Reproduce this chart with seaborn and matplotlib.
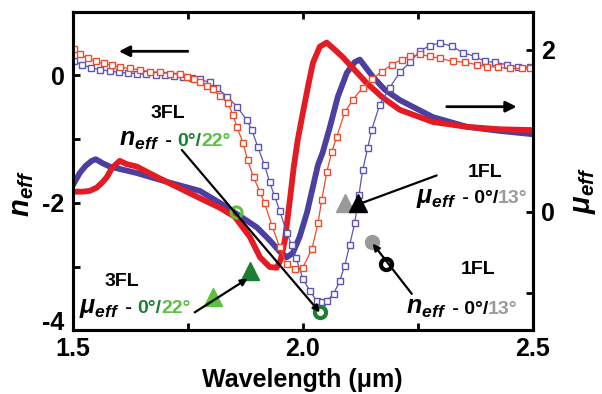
import numpy as np
import pandas as pd
import matplotlib
matplotlib.use("Agg")
import matplotlib.pyplot as plt
import seaborn as sns
from matplotlib.offsetbox import TextArea, HPacker, AnnotationBbox

# n_eff (open squares, left axis)
lam_sq_blue = [1.502, 1.52, 1.54, 1.56, 1.58, 1.60, 1.62, 1.64, 1.66, 1.68, 1.70, 1.72, 1.74,
               1.76, 1.776, 1.798, 1.813, 1.835, 1.857, 1.878, 1.889, 1.902, 1.917, 1.928,
               1.939, 1.950, 1.965, 1.976, 1.985, 2.000, 2.015, 2.030, 2.041, 2.052, 2.067,
               2.080, 2.091, 2.102, 2.113, 2.122, 2.130, 2.141, 2.150, 2.167, 2.189, 2.211,
               2.233, 2.254, 2.276, 2.298, 2.324, 2.348, 2.374, 2.396, 2.417, 2.443, 2.467, 2.493]
n_sq_blue = [0.22, 0.17, 0.12, 0.09, 0.07, 0.05, 0.04, 0.03, 0.02, 0.01, 0.0, -0.01, -0.02,
             -0.04, -0.06, -0.11, -0.19, -0.33, -0.49, -0.70, -0.85, -1.12, -1.41, -1.68,
             -1.90, -2.13, -2.47, -2.67, -2.86, -3.19, -3.38, -3.54, -3.56, -3.54, -3.43,
             -3.23, -2.99, -2.66, -2.31, -1.88, -1.49, -1.14, -0.85, -0.46, -0.19, 0.05,
             0.21, 0.38, 0.47, 0.51, 0.46, 0.36, 0.30, 0.22, 0.21, 0.17, 0.14, 0.14]

lam_sq_red = [1.502, 1.515, 1.533, 1.550, 1.567, 1.585, 1.602, 1.624, 1.646, 1.667, 1.689,
              1.711, 1.733, 1.748, 1.763, 1.776, 1.791, 1.804, 1.820, 1.837, 1.848, 1.857,
              1.870, 1.880, 1.893, 1.907, 1.917, 1.933, 1.950, 1.965, 1.983, 2.000, 2.020,
              2.033, 2.041, 2.052, 2.063, 2.074, 2.091, 2.109, 2.130, 2.150, 2.172, 2.193,
              2.215, 2.233, 2.254, 2.276, 2.298, 2.326, 2.352, 2.378, 2.400, 2.424, 2.450,
              2.476, 2.493]
n_sq_red = [0.41, 0.33, 0.27, 0.22, 0.19, 0.16, 0.13, 0.11, 0.09, 0.06, 0.05,
            0.03, 0.02, -0.02, -0.06, -0.11, -0.16, -0.22, -0.32, -0.43, -0.62, -0.81,
            -1.06, -1.33, -1.60, -1.83, -2.01, -2.36, -2.70, -2.96, -3.04, -3.02, -2.72,
            -2.32, -1.96, -1.52, -1.20, -0.96, -0.58, -0.38, -0.19, -0.06, 0.06, 0.17,
            0.25, 0.30, 0.33, 0.30, 0.27, 0.22, 0.21, 0.17, 0.14, 0.13, 0.11,
            0.11, 0.11]

# mu_eff (thick lines, right axis)
lam_mu_red = [1.500, 1.522, 1.537, 1.552, 1.565, 1.574, 1.585, 1.596, 1.602, 1.617, 1.639,
              1.683, 1.726, 1.776, 1.820, 1.852, 1.885, 1.907, 1.928, 1.943, 1.952, 1.961,
              1.972, 1.980, 1.989, 2.000, 2.011, 2.022, 2.037, 2.052, 2.070, 2.087, 2.113,
              2.139, 2.174, 2.211, 2.283, 2.357, 2.428, 2.498]
mu_red = [0.25, 0.25, 0.26, 0.30, 0.37, 0.43, 0.54, 0.60, 0.63, 0.59, 0.56,
          0.43, 0.31, 0.17, 0.05, -0.06, -0.31, -0.56, -0.68, -0.69, -0.59, -0.35,
          0.15, 0.54, 0.89, 1.22, 1.54, 1.84, 2.04, 2.09, 2.00, 1.91, 1.75,
          1.59, 1.41, 1.26, 1.11, 1.05, 1.02, 1.01]

lam_mu_blue = [1.500, 1.515, 1.528, 1.541, 1.550, 1.565, 1.580, 1.639, 1.711, 1.776, 1.820,
               1.863, 1.900, 1.928, 1.950, 1.965, 1.978, 1.993, 2.009, 2.022, 2.033, 2.043,
               2.059, 2.076, 2.096, 2.113, 2.124, 2.152, 2.178, 2.211, 2.283, 2.357, 2.428, 2.498]
mu_blue = [0.33, 0.48, 0.57, 0.63, 0.65, 0.60, 0.56, 0.48, 0.36, 0.26, 0.11,
           -0.05, -0.19, -0.35, -0.49, -0.56, -0.51, -0.31, -0.01, 0.31, 0.58, 0.73,
           1.05, 1.42, 1.72, 1.85, 1.88, 1.67, 1.51, 1.38, 1.17, 1.05, 1.00, 0.96]

# annotation markers (left-axis units)
ring_lam = [1.854, 2.037]
ring_n = [-2.15, -3.72]
tri3_lam = [1.804, 1.885]
tri3_n = [-3.48, -3.07]
tri1_lam = [2.091, 2.120]
tri1_n = [-2.01, -2.01]
dot1_lam = [2.150, 2.180]
dot1_n = [-2.62, -2.96]

sns.set_theme(style="ticks")
plt.rcParams["font.family"] = ["Liberation Sans", "DejaVu Sans"]
plt.rcParams["font.weight"] = "bold"
plt.rcParams["axes.unicode_minus"] = False
plt.rcParams["text.color"] = "black"
plt.rcParams["axes.labelcolor"] = "black"
plt.rcParams["axes.edgecolor"] = "black"
plt.rcParams["xtick.color"] = "black"
plt.rcParams["ytick.color"] = "black"
plt.rcParams["mathtext.fontset"] = "custom"
plt.rcParams["mathtext.rm"] = "Liberation Sans"
plt.rcParams["mathtext.it"] = "Liberation Sans:italic"
plt.rcParams["mathtext.bf"] = "Liberation Sans:bold"
plt.rcParams["mathtext.bfit"] = "Liberation Sans:italic:bold"

RED, BLUE = "#e31b23", "#4b3f9f"
SQ_RED, SQ_BLUE = "#ee4b2b", "#5b55b5"
DK_GREEN, LT_GREEN = "#1a7f32", "#5cc040"
GRAY = "#9a9a9a"

fig = plt.figure(figsize=(6.02, 3.94), dpi=100)
ax = fig.add_axes([0.121, 0.162, 0.764, 0.808])
ax2 = ax.twinx()
ax.set_zorder(ax2.get_zorder() + 1)
ax.patch.set_visible(False)

sns.lineplot(x=lam_mu_blue, y=mu_blue, ax=ax2, color=BLUE, lw=4.2, sort=False)
sns.lineplot(x=lam_mu_red, y=mu_red, ax=ax2, color=RED, lw=4.2, sort=False)

for lam, n, c in [(lam_sq_blue, n_sq_blue, SQ_BLUE), (lam_sq_red, n_sq_red, SQ_RED)]:
    sns.lineplot(x=lam, y=n, ax=ax, color=c, lw=0.9, sort=False,
                 marker="s", markersize=5, markerfacecolor="white",
                 markeredgecolor=c, markeredgewidth=1.0)

ax.set_xlim(1.5, 2.5)
ax.set_ylim(-4, 1.0)
ax2.set_ylim(-1.46, 2.47)

ax.set_xticks([1.5, 2.0, 2.5])
ax.set_xticks([1.75, 2.25], minor=True)
ax.set_yticks([-4, -2, 0])
ax.set_yticks([-3, -1], minor=True)
ax2.set_yticks([0, 2])
ax2.set_yticks([-1, 1], minor=True)

for a in (ax, ax2):
    for s in a.spines.values():
        s.set_linewidth(2.2)
        s.set_visible(True)
    a.tick_params(which="both", direction="in", length=5, width=2, labelsize=18, pad=6)
ax.tick_params(which="both", top=True, right=False)
ax2.tick_params(which="both", left=False)
ax.tick_params(axis="x", pad=5)
# keep "-4" clear of "1.5"
ax.yaxis.get_major_ticks()[0].label1.set_verticalalignment("baseline")

ax.set_xlabel("Wavelength (μm)", fontsize=18, fontweight="bold", labelpad=5)
ax.set_ylabel(r"$\mathbfit{n}_{\mathbfit{eff}}$", fontsize=21)
ax.yaxis.set_label_coords(-0.08, 0.43)
ax2.set_ylabel(r"$\mathbfit{\mu}_{\mathbfit{eff}}$", fontsize=21, rotation=90)
ax2.yaxis.set_label_coords(1.08, 0.44)

# direction arrows
ax.annotate("", xy=(1.600, 0.38), xytext=(1.750, 0.38),
            arrowprops=dict(arrowstyle="-|>", color="black", lw=2, mutation_scale=16,
                            shrinkA=0, shrinkB=0))
ax.annotate("", xy=(2.465, -0.49), xytext=(2.313, -0.49),
            arrowprops=dict(arrowstyle="-|>", color="black", lw=2, mutation_scale=16,
                            shrinkA=0, shrinkB=0))


def rich_label(ax, x, y, pieces):
    boxes = [TextArea(s, textprops=dict(color=c, fontsize=fs, fontweight="bold"))
             for s, c, fs in pieces]
    pack = HPacker(children=boxes, align="baseline", pad=0, sep=0)
    ab = AnnotationBbox(pack, (x, y), xycoords="data", frameon=False,
                        box_alignment=(0.5, 0.5), pad=0, annotation_clip=False)
    ab.set_zorder(10)
    ax.add_artist(ab)


def pointer(ax, tail, tip):
    ax.annotate("", xy=tip, xytext=tail,
                arrowprops=dict(arrowstyle="-|>", color="black", lw=1.6,
                                mutation_scale=10, shrinkA=0, shrinkB=0), zorder=9)


NEFF = r"$\mathbfit{n}_{\mathbfit{eff}}$"
MUEFF = r"$\mathbfit{\mu}_{\mathbfit{eff}}$"

# 3FL n_eff
ax.text(1.707, -0.60, "3FL", fontsize=14, fontweight="bold", ha="center", va="center")
rich_label(ax, 1.722, -1.01, [(NEFF, "black", 18), (" - ", "black", 14),
                               ("0°/", DK_GREEN, 14), ("22°", LT_GREEN, 14)])
pointer(ax, (1.737, -1.17), (2.037, -3.72))
ax.plot(ring_lam[0], ring_n[0], "o", ms=8, mfc="none", mec=LT_GREEN, mew=2.2, zorder=8)
ax.plot(ring_lam[1], ring_n[1], "o", ms=8, mfc="none", mec=DK_GREEN, mew=3, zorder=8)

# 3FL mu_eff
ax.text(1.607, -3.23, "3FL", fontsize=14, fontweight="bold", ha="center", va="center")
rich_label(ax, 1.635, -3.64, [(MUEFF, "black", 18), (" - ", "black", 14),
                               ("0°/", DK_GREEN, 14), ("22°", LT_GREEN, 14)])
ax.plot(tri3_lam[0], tri3_n[0], "^", ms=13, color=LT_GREEN, zorder=8)
ax.plot(tri3_lam[1], tri3_n[1], "^", ms=13, color=DK_GREEN, zorder=8)
pointer(ax, (1.765, -3.72), (1.880, -3.19))

# 1FL mu_eff
ax.text(2.396, -1.52, "1FL", fontsize=14, fontweight="bold", ha="center", va="center")
rich_label(ax, 2.367, -1.91, [(MUEFF, "black", 18), (" - 0°/", "black", 14),
                               ("13°", GRAY, 14)])
ax.plot(tri1_lam[0], tri1_n[0], "^", ms=13, color=GRAY, zorder=8)
ax.plot(tri1_lam[1], tri1_n[1], "^", ms=13, color="black", zorder=8)
pointer(ax, (2.291, -1.57), (2.107, -2.06))

# 1FL n_eff
ax.text(2.380, -3.04, "1FL", fontsize=14, fontweight="bold", ha="center", va="center")
rich_label(ax, 2.346, -3.64, [(NEFF, "black", 18), (" - 0°/", "black", 14),
                               ("13°", GRAY, 14)])
ax.plot(dot1_lam[0], dot1_n[0], "o", ms=10, color=GRAY, zorder=8)
ax.plot(dot1_lam[1], dot1_n[1], "o", ms=8, mfc="white", mec="black", mew=3, zorder=8)
pointer(ax, (2.237, -3.43), (2.152, -2.64))

fig.savefig("out.png", dpi=100)
